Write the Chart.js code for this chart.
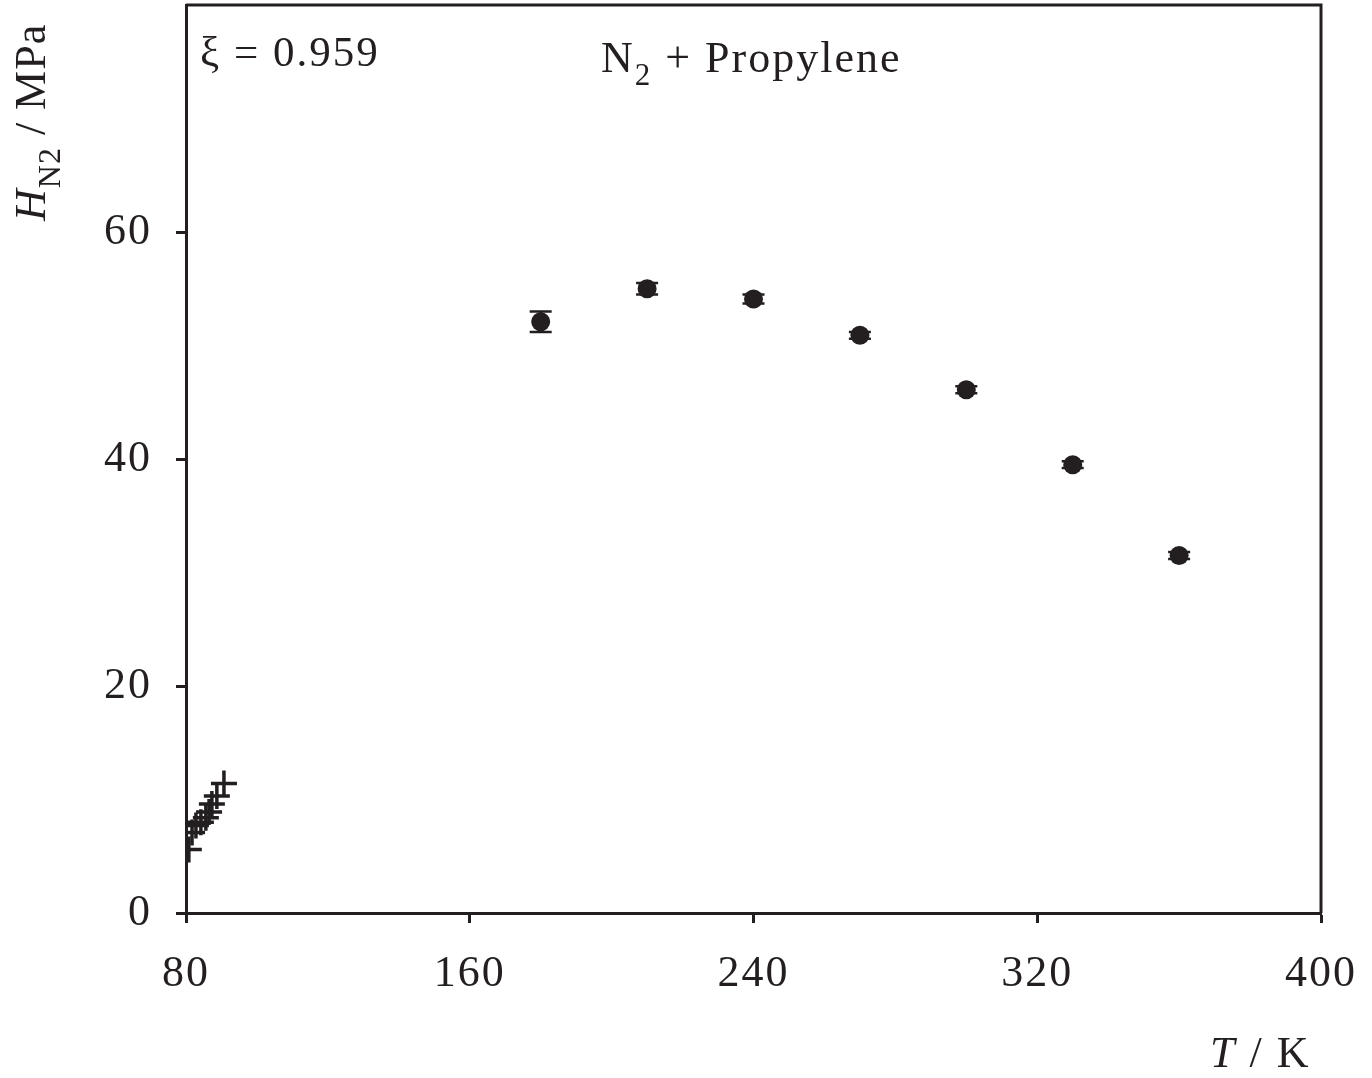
<!DOCTYPE html>
<html>
<head>
<meta charset="utf-8">
<script src="https://cdn.jsdelivr.net/npm/chart.js@4/dist/chart.umd.min.js"></script>
<style>
  body { margin: 0; background: #fff; }
  canvas { display: block; }
</style>
</head>
<body>
<canvas id="chart1" width="1372" height="1078"></canvas>
<script>
// simulation points (filled circles, with error bars)
const simT = [180, 210, 240, 270, 300, 330, 360];
const simH = [52.1, 55.0, 54.1, 50.9, 46.1, 39.5, 31.5];
const simErr = [0.9, 0.5, 0.4, 0.3, 0.3, 0.3, 0.3];

// experimental points (crosses) near 80 K
const expT = [90.7, 88.7, 87.3, 86.5, 85.6, 84.2, 82.8, 81.7, 80.8];
const expH = [11.4, 10.3, 9.6, 8.9, 8.4, 8.0, 7.7, 7.1, 5.6];

const xTicks = [80, 160, 240, 320, 400];
const yTicks = [0, 20, 40, 60];

const ink = '#231f20';
const serif = '"Liberation Serif", "Times New Roman", serif';

const errorBars = {
  id: 'errorBars',
  beforeDatasetsDraw(chart) {
    const ctx = chart.ctx;
    const xs = chart.scales.x, ys = chart.scales.y;
    ctx.save();
    ctx.strokeStyle = ink;
    ctx.lineWidth = 2.5;
    simT.forEach((t, i) => {
      const px = xs.getPixelForValue(t);
      const top = ys.getPixelForValue(simH[i] + simErr[i]);
      const bot = ys.getPixelForValue(simH[i] - simErr[i]);
      ctx.beginPath();
      ctx.moveTo(px, top); ctx.lineTo(px, bot);
      ctx.moveTo(px - 11, top); ctx.lineTo(px + 11, top);
      ctx.moveTo(px - 11, bot); ctx.lineTo(px + 11, bot);
      ctx.stroke();
    });
    ctx.restore();
  }
};

const frameAndText = {
  id: 'frameAndText',
  beforeDraw(chart) {
    chart.ctx.letterSpacing = '2px';
  },
  afterDraw(chart) {
    const ctx = chart.ctx;
    const a = chart.chartArea;
    ctx.save();
    ctx.strokeStyle = ink;
    ctx.lineWidth = 3;
    ctx.beginPath();
    ctx.moveTo(a.left, a.top);
    ctx.lineTo(a.right, a.top);
    ctx.lineTo(a.right, a.bottom);
    ctx.stroke();

    ctx.fillStyle = ink;
    ctx.textBaseline = 'alphabetic';
    ctx.textAlign = 'left';

    // xi label
    ctx.font = '43px ' + serif;
    ctx.fillText('ξ = 0.959', 200, 66);

    // system label
    let x = 601;
    ctx.font = '44px ' + serif;
    ctx.fillText('N', x, 72);
    x += ctx.measureText('N').width;
    ctx.font = '31px ' + serif;
    ctx.fillText('2', x, 85);
    x += ctx.measureText('2').width;
    ctx.font = '44px ' + serif;
    ctx.fillText(' + Propylene', x, 72);

    // x title
    ctx.font = 'italic 44px ' + serif;
    ctx.fillText('T', 1210, 1067);
    let tx = 1210 + ctx.measureText('T').width;
    ctx.font = '44px ' + serif;
    ctx.fillText(' / K', tx, 1067);

    // y title, rotated
    ctx.letterSpacing = '1px';
    ctx.translate(45, 221);
    ctx.rotate(-Math.PI / 2);
    let yx = 0;
    ctx.font = 'italic 44px ' + serif;
    ctx.fillText('H', yx, 0);
    yx += ctx.measureText('H').width;
    ctx.font = '32px ' + serif;
    ctx.fillText('N2', yx, 15);
    yx += ctx.measureText('N2').width;
    ctx.font = '44px ' + serif;
    ctx.fillText(' / MPa', yx, 0);
    ctx.restore();
  }
};

const ctx = document.getElementById('chart1');

const myChart = new Chart(ctx, {
  type: 'scatter',
  data: {
    datasets: [{
      label: 'simulation',
      data: simT.map((t, i) => ({x: t, y: simH[i]})),
      pointStyle: 'circle',
      pointRadius: 9.5,
      backgroundColor: ink,
      borderWidth: 0
    }, {
      label: 'experiment',
      data: expT.map((t, i) => ({x: t, y: expH[i]})),
      pointStyle: 'cross',
      pointRadius: 13,
      borderColor: ink,
      borderWidth: 3.5
    }]
  },
  options: {
    responsive: false,
    animation: false,
    devicePixelRatio: 1,
    layout: { autoPadding: false, padding: { top: 5, right: 51, left: 0, bottom: 0 } },
    plugins: {
      legend: { display: false },
      tooltip: { enabled: false }
    },
    scales: {
      x: {
        type: 'linear',
        min: 80,
        max: 400,
        afterBuildTicks: scale => { scale.ticks = xTicks.map(v => ({value: v})); },
        afterFit: scale => {
          scale.height = 165;
          scale.paddingLeft = 0;
          scale.paddingRight = 0;
        },
        ticks: {
          color: ink,
          font: { family: serif, size: 44 },
          padding: 25,
          maxRotation: 0
        },
        grid: {
          drawOnChartArea: false,
          tickLength: 10,
          tickWidth: 3,
          tickColor: ink
        },
        border: { display: true, width: 3, color: ink }
      },
      y: {
        type: 'linear',
        min: 0,
        max: 80,
        afterBuildTicks: scale => { scale.ticks = yTicks.map(v => ({value: v})); },
        afterFit: scale => {
          scale.width = 186;
          scale.paddingTop = 0;
          scale.paddingBottom = 0;
        },
        ticks: {
          color: ink,
          font: { family: serif, size: 44 },
          padding: 24
        },
        grid: {
          drawOnChartArea: false,
          tickLength: 10,
          tickWidth: 3,
          tickColor: ink
        },
        border: { display: true, width: 3, color: ink }
      }
    }
  },
  plugins: [errorBars, frameAndText]
});
</script>
</body>
</html>
